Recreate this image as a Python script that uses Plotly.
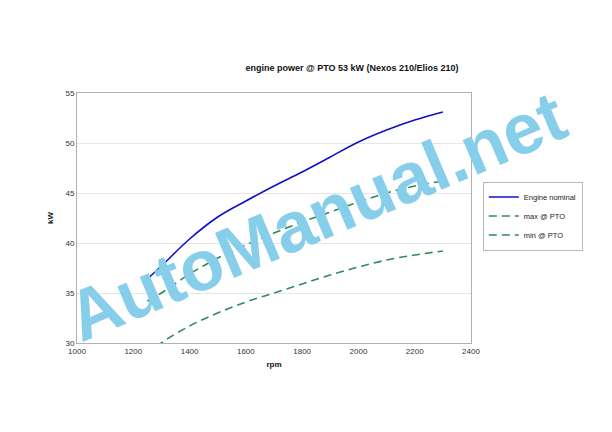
import plotly.graph_objects as go

rpm_nominal = [1250, 1300, 1400, 1500, 1600, 1700, 1800, 1900, 2000, 2100, 2200, 2300]
kw_nominal = [36.4, 37.7, 40.4, 42.6, 44.2, 45.7, 47.1, 48.6, 50.1, 51.3, 52.3, 53.1]

rpm_max = [1250, 1300, 1400, 1500, 1600, 1700, 1800, 1900, 2000, 2100, 2200, 2300]
kw_max = [34.2, 35.0, 36.9, 38.5, 39.8, 41.0, 42.1, 43.1, 44.1, 45.0, 45.7, 46.2]

rpm_min = [1250, 1300, 1400, 1500, 1600, 1700, 1800, 1900, 2000, 2100, 2200, 2300]
kw_min = [28.7, 30.0, 31.7, 33.0, 34.1, 35.0, 35.9, 36.8, 37.6, 38.3, 38.8, 39.2]

x_ticks = [1000, 1200, 1400, 1600, 1800, 2000, 2200, 2400]
y_ticks = [30, 35, 40, 45, 50, 55]

FONT = "Liberation Sans, Arial, sans-serif"

fig = go.Figure()
fig.add_trace(go.Scatter(x=rpm_nominal, y=kw_nominal, mode="lines", name="Engine nominal",
                         line=dict(color="#1010c8", width=1.6, shape="spline")))
fig.add_trace(go.Scatter(x=rpm_max, y=kw_max, mode="lines", name="max @ PTO",
                         line=dict(color="#2e8b57", width=1.6, dash="8px,5px", shape="spline")))
fig.add_trace(go.Scatter(x=rpm_min, y=kw_min, mode="lines", name="min @ PTO",
                         line=dict(color="#2e8b57", width=1.6, dash="8px,5px", shape="spline")))

fig.update_layout(
    width=604, height=424,
    margin=dict(l=69, r=141, t=85, b=89),
    paper_bgcolor="white", plot_bgcolor="white",
    font=dict(family=FONT, size=8, color="#333333"),
    title=dict(text="<b>engine power @ PTO 53 kW (Nexos 210/Elios 210)</b>",
               x=344/604, xref="container", xanchor="center",
               y=1-60/424, yref="container", yanchor="middle",
               font=dict(family=FONT, size=9, color="#111111")),
    showlegend=True,
    legend=dict(x=1.03, y=0.508, xanchor="left", yanchor="middle",
                bordercolor="#b8b8b8", borderwidth=1, bgcolor="white",
                font=dict(family=FONT, size=7.5, color="#222222"),
                tracegroupgap=0, itemwidth=30),
    xaxis=dict(range=[1000, 2400], tickvals=x_ticks, ticktext=[str(v) for v in x_ticks],
               showgrid=False, zeroline=False, showline=True, linecolor="#b0b0b0", linewidth=1,
               mirror=True, ticks="", tickfont=dict(size=8, color="#333333"),
               title=dict(text="<b>rpm</b>", font=dict(size=8, color="#111111"), standoff=6)),
    yaxis=dict(range=[30, 55], tickvals=y_ticks, ticktext=[str(v) for v in y_ticks],
               showgrid=True, gridcolor="#e6e6e6", gridwidth=1, zeroline=False,
               showline=True, linecolor="#b0b0b0", linewidth=1, mirror=True, ticks="",
               tickfont=dict(size=8, color="#333333"),
               title=dict(text="<b>kW</b>", font=dict(size=8, color="#111111"), standoff=10)),
)

fig.add_annotation(text="<b>AutoManual.net</b>", xref="paper", yref="paper",
                   x=0.606, y=0.508, xanchor="center", yanchor="middle",
                   textangle=-23, showarrow=False,
                   font=dict(family=FONT, size=71, color="#87ceeb"))

fig.write_html("out.html")
